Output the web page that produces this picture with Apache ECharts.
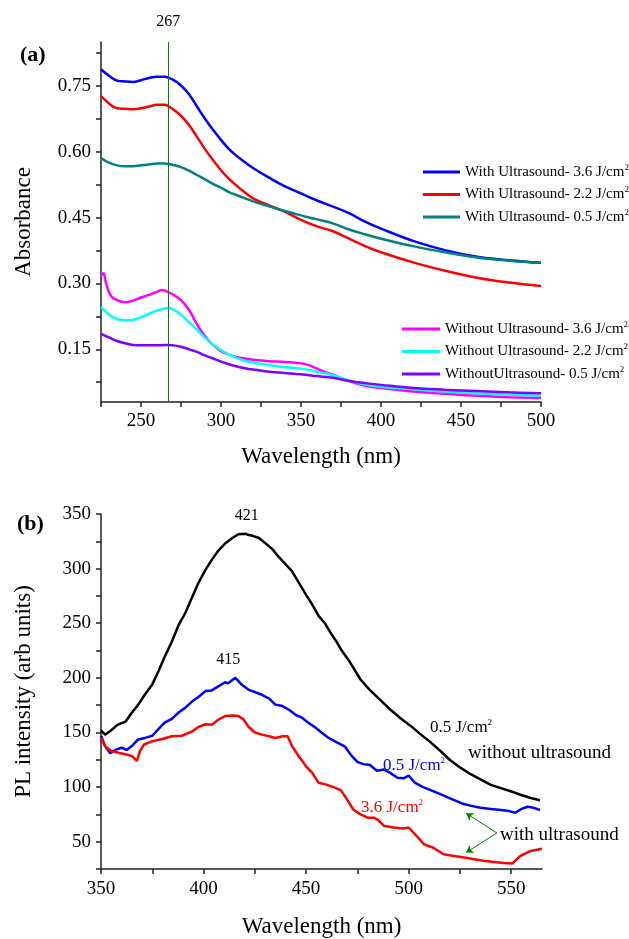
<!DOCTYPE html>
<html><head><meta charset="utf-8">
<script src="https://cdn.jsdelivr.net/npm/echarts@6/dist/echarts.min.js"></script>
<style>html,body{margin:0;padding:0;background:#fff}#c{width:629px;height:939px}</style>
</head><body><div id="c"></div>
<script>
const FONT = "'Liberation Serif', 'Times New Roman', serif";

// ---------- Panel (a): absorbance ----------
const wlA = [225,230,235,240,245,250,255,260,265,267,270,275,280,285,290,295,300,305,310,315,320,330,340,350,360,370,380,390,400,420,440,460,480,500];
const absWith36 = [0.788,0.773,0.762,0.760,0.759,0.763,0.768,0.771,0.771,0.769,0.764,0.751,0.731,0.703,0.675,0.650,0.627,0.606,0.590,0.576,0.563,0.541,0.521,0.505,0.489,0.475,0.460,0.441,0.425,0.397,0.376,0.361,0.353,0.347];
const absWith22 = [0.727,0.710,0.699,0.698,0.697,0.699,0.703,0.707,0.707,0.704,0.697,0.682,0.661,0.634,0.606,0.581,0.558,0.538,0.522,0.507,0.494,0.478,0.463,0.445,0.430,0.419,0.402,0.385,0.371,0.348,0.329,0.313,0.302,0.294];
const absWith05 = [0.586,0.575,0.569,0.567,0.567,0.569,0.571,0.573,0.573,0.572,0.570,0.565,0.557,0.547,0.537,0.527,0.518,0.508,0.501,0.494,0.487,0.476,0.465,0.455,0.446,0.437,0.423,0.412,0.402,0.385,0.371,0.359,0.352,0.347];
const absWo22 = [0.246,0.229,0.219,0.216,0.217,0.223,0.231,0.238,0.243,0.244,0.241,0.229,0.212,0.195,0.176,0.161,0.148,0.138,0.130,0.124,0.120,0.114,0.109,0.106,0.099,0.091,0.079,0.070,0.065,0.059,0.054,0.050,0.047,0.044];
const absWo05 = [0.185,0.177,0.169,0.164,0.160,0.159,0.159,0.159,0.160,0.160,0.159,0.156,0.150,0.144,0.136,0.129,0.122,0.116,0.111,0.107,0.104,0.099,0.096,0.093,0.089,0.085,0.078,0.073,0.069,0.062,0.058,0.055,0.052,0.050];
const wlA_wo36 = [225,226.5,228,231,235,240,245,250,255,260,263,265,267,270,275,280,285,290,295,300,305,310,315,320,330,340,350,355,360,365,370,380,390,400,420,440,460,480,500];
const absWo36 = [0.318,0.323,0.303,0.273,0.262,0.257,0.261,0.268,0.274,0.281,0.285,0.284,0.280,0.275,0.262,0.240,0.207,0.180,0.160,0.146,0.138,0.132,0.129,0.126,0.123,0.121,0.118,0.114,0.106,0.098,0.092,0.078,0.067,0.062,0.054,0.049,0.044,0.041,0.039];
const peakA = 267;
const namesA = ['With Ultrasound- 3.6 J/cm2','With Ultrasound- 2.2 J/cm2','With Ultrasound- 0.5 J/cm2','Without Ultrasound- 3.6 J/cm2','Without Ultrasound- 2.2 J/cm2','WithoutUltrasound- 0.5 J/cm2'];
const xTicksA = [225,250,275,300,325,350,375,400,425,450,475,500];
const xLabelsA = [250,300,350,400,450,500];
const yTicksA = [0.075,0.15,0.225,0.30,0.375,0.45,0.525,0.60,0.675,0.75,0.825];
const yLabelsA = [0.15,0.30,0.45,0.60,0.75];

// ---------- Panel (b): PL ----------
const wlB_wo05 = [350,352,355,358,362,365,368,371.5,375,378,381,384.5,388,391,394,397.5,401,404,407,410.5,414,417,420.5,421.5,424,427,430,433.5,436.5,440,443,446.5,450,453,456,459.5,462,464.5,467,471.5,476.5,481,486,491,496,501,506,511,515.5,520,525,530,535,540,545,550,554.5,559.5,564];
const plWo05 = [152,148,152,157,160,168,175,185,194,206,219,233,249,259,272,287,299,308,316,323,328,331.5,332,331,330,328,323.5,318,311,304,298,287,276,267,257,249,241,234,226,214,198.5,189,180,171,163,156,148,140.5,133,125,118,112,107,102,99,96,93,90,88];
const wlB_w05 = [350,352,354.5,357,360,362.5,365,368,371.5,375,378,381,384.5,388,391,394.5,397.5,401,404,407,410.5,412,415.5,418.5,422,425,428.5,432,435,438,441.5,445,448,451,454.5,457.5,461,465,469,472,475,478,481,484.5,488,491,494.5,497.5,500,503,507,511,516,521,526,530,535,540,545,549,552,555,558,561,564];
const plW05 = [147,137.5,131,134,136,134,137.5,143.5,145,147,153,159,162.5,168.5,172.5,178.5,182.5,188,188.5,192,196,195,200,194,189,187,184.5,181,175.5,174.5,171,166,163.5,159,154.5,150,145,141,137,129,123,121,120.5,115,116,113,108.5,108,110.5,104,100,97,93,89,85,83,81,80,79,78,76.5,80,82,81,79];
const wlB_w36 = [350,352,355,358.5,362,365,367.5,369,371,375,380,384.5,389.5,394.5,397.5,401,404,407.5,410.5,414,417,419.5,422,425,428.5,432,435,438.5,441,443,446.5,450,453,456,459.5,464,467,470,473,476.5,480,483,485,488,492.5,497.5,500,504,507.5,512,517,522,527,532,536.5,541.5,546.5,550.5,554.5,559.5,565];
const plW36 = [145,137.5,133,131.5,130,128.5,124,133,139,142,144,146.5,147,151,155,157.5,157,162,165,165.5,165,162,155,150,148,146.5,145,146.5,146.5,138,128,119,113,104,102.5,99.5,97,88.5,79.5,75,72,72,70,64.5,63,62,63,55,47.5,44.5,38.5,37,35.5,34,32.5,31.5,30.5,30,37,41.5,43.5];
const peakB1 = [421, 332]; // label "421"
const peakB2 = [415, 200]; // label "415"
const arrowFrom = [543, 58];
const arrowTo1 = [528, 76];
const arrowTo2 = [528, 40];
const xTicksB = [350,375,400,425,450,475,500,525,550];
const xLabelsB = [350,400,450,500,550];
const yTicksB = [25,50,75,100,125,150,175,200,225,250,275,300,325,350];
const yLabelsB = [50,100,150,200,250,300,350];

const zip = (xs, ys) => xs.map((x, i) => [x, ys[i]]);
const AX = '#222';
const axisCommon = (ticks, labels, fmt, margin) => ({
  axisLine: { show: true, onZero: false, lineStyle: { color: AX, width: 1.5 } },
  axisTick: { show: true, customValues: ticks, length: 5, inside: false, lineStyle: { color: AX, width: 1.5 } },
  axisLabel: { customValues: labels, formatter: fmt, color: '#000', fontFamily: FONT, fontSize: 19, margin: margin },
  splitLine: { show: false }
});
const supRich = { sup: { fontSize: 9, lineHeight: 9, verticalAlign: 'top', fontFamily: FONT } };
const supFmt = n => n.replace(/cm2$/, 'cm{sup|2}');

const colorsA = ['#0000ff', '#ff0000', '#008080', '#ff00ff', '#00ffff', '#8000ff'];
const dataA = [zip(wlA, absWith36), zip(wlA, absWith22), zip(wlA, absWith05), zip(wlA_wo36, absWo36), zip(wlA, absWo22), zip(wlA, absWo05)];

const seriesA = dataA.map((d, i) => ({
  type: 'line', name: namesA[i], xAxisIndex: 0, yAxisIndex: 0, data: d,
  smooth: 0.4, showSymbol: false, color: colorsA[i],
  lineStyle: { width: 2.5, color: colorsA[i] }, z: 3
}));
seriesA[0].markLine = {
  silent: true, symbol: 'none', animation: false,
  lineStyle: { color: '#008000', width: 1, type: 'solid' },
  label: { show: true, position: 'end', formatter: String(peakA), color: '#000', fontFamily: FONT, fontSize: 16, distance: 12 },
  data: [{ xAxis: peakA }]
};

const labelStyle = { color: '#000', fontFamily: FONT, fontSize: 16 };
const seriesB = [
  { type: 'line', name: 'wo05', xAxisIndex: 1, yAxisIndex: 1, data: zip(wlB_wo05, plWo05), showSymbol: false, color: '#000', lineStyle: { width: 2.5, color: '#000' },
    markPoint: { symbol: 'circle', symbolSize: 0, silent: true, label: Object.assign({ show: true, position: 'top', distance: 10, formatter: String(peakB1[0]) }, labelStyle), data: [{ coord: peakB1 }] } },
  { type: 'line', name: 'w05', xAxisIndex: 1, yAxisIndex: 1, data: zip(wlB_w05, plW05), showSymbol: false, color: '#0000ff', lineStyle: { width: 2.5, color: '#0000ff' },
    markPoint: { symbol: 'circle', symbolSize: 0, silent: true, label: Object.assign({ show: true, position: 'top', distance: 10, offset: [-6, 0], formatter: String(peakB2[0]) }, labelStyle), data: [{ coord: peakB2 }] } },
  { type: 'line', name: 'w36', xAxisIndex: 1, yAxisIndex: 1, data: zip(wlB_w36, plW36), showSymbol: false, color: '#ff0000', lineStyle: { width: 2.5, color: '#ff0000' },
    markLine: { silent: true, animation: false, symbol: ['none', 'arrow'], symbolSize: 7,
      lineStyle: { color: '#008000', width: 1, type: 'solid' }, label: { show: false },
      data: [[{ coord: arrowFrom }, { coord: arrowTo1 }], [{ coord: arrowFrom }, { coord: arrowTo2 }]] } }
];

const legendBase = {
  orient: 'vertical', icon: 'rect', itemWidth: 37, itemHeight: 3, itemGap: 4.5,
  selectedMode: false, formatter: supFmt,
  textStyle: { color: '#000', fontFamily: FONT, fontSize: 15, lineHeight: 18, rich: supRich }
};

const option = {
  animation: false,
  backgroundColor: '#fff',
  grid: [
    { left: 101, top: 42, width: 440, height: 360 },
    { left: 101, top: 514, width: 441, height: 356 }
  ],
  legend: [
    Object.assign({}, legendBase, { data: namesA.slice(0, 3), left: 418, top: 158 }),
    Object.assign({}, legendBase, { data: namesA.slice(3), left: 397, top: 315, itemWidth: 38 })
  ],
  xAxis: [
    Object.assign({ type: 'value', gridIndex: 0, min: 225, max: 500, name: 'Wavelength (nm)', nameLocation: 'middle', nameGap: 43,
      nameTextStyle: { color: '#000', fontFamily: FONT, fontSize: 23 } }, axisCommon(xTicksA, xLabelsA, v => String(v), 10)),
    Object.assign({ type: 'value', gridIndex: 1, min: 350, max: 565, name: 'Wavelength (nm)', nameLocation: 'middle', nameGap: 46,
      nameTextStyle: { color: '#000', fontFamily: FONT, fontSize: 23 } }, axisCommon(xTicksB, xLabelsB, v => String(v), 11))
  ],
  yAxis: [
    Object.assign({ type: 'value', gridIndex: 0, min: 0.03, max: 0.85, name: 'Absorbance', nameLocation: 'middle', nameGap: 66,
      nameTextStyle: { color: '#000', fontFamily: FONT, fontSize: 23 } }, axisCommon(yTicksA, yLabelsA, v => v.toFixed(2), 10)),
    Object.assign({ type: 'value', gridIndex: 1, min: 25, max: 350, name: 'PL intensity (arb units)', nameLocation: 'middle', nameGap: 66,
      nameTextStyle: { color: '#000', fontFamily: FONT, fontSize: 23 } }, axisCommon(yTicksB, yLabelsB, v => String(v), 10))
  ],
  series: seriesA.concat(seriesB),
  graphic: [
    { type: 'text', left: 20, top: 44, style: { text: '(a)', fontFamily: FONT, fontSize: 22, fontWeight: 'bold', fill: '#000' } },
    { type: 'text', left: 17, top: 513, style: { text: '(b)', fontFamily: FONT, fontSize: 22, fontWeight: 'bold', fill: '#000' } },
    { type: 'text', left: 430, top: 718, style: { text: '0.5 J/cm{sup|2}', rich: supRich, fontFamily: FONT, fontSize: 17, lineHeight: 20, fill: '#000' } },
    { type: 'text', left: 468, top: 744, style: { text: 'without ultrasound', fontFamily: FONT, fontSize: 19, fill: '#000' } },
    { type: 'text', left: 383, top: 756, style: { text: '0.5 J/cm{sup|2}', rich: supRich, fontFamily: FONT, fontSize: 17, lineHeight: 20, fill: '#0000ff' } },
    { type: 'text', left: 361, top: 798, style: { text: '3.6 J/cm{sup|2}', rich: supRich, fontFamily: FONT, fontSize: 17, lineHeight: 20, fill: '#ff0000' } },
    { type: 'text', left: 500, top: 826, style: { text: 'with ultrasound', fontFamily: FONT, fontSize: 19, fill: '#000' } }
  ]
};
const chart = echarts.init(document.getElementById('c'), null, { renderer: 'canvas' });
chart.setOption(option);
</script></body></html>
